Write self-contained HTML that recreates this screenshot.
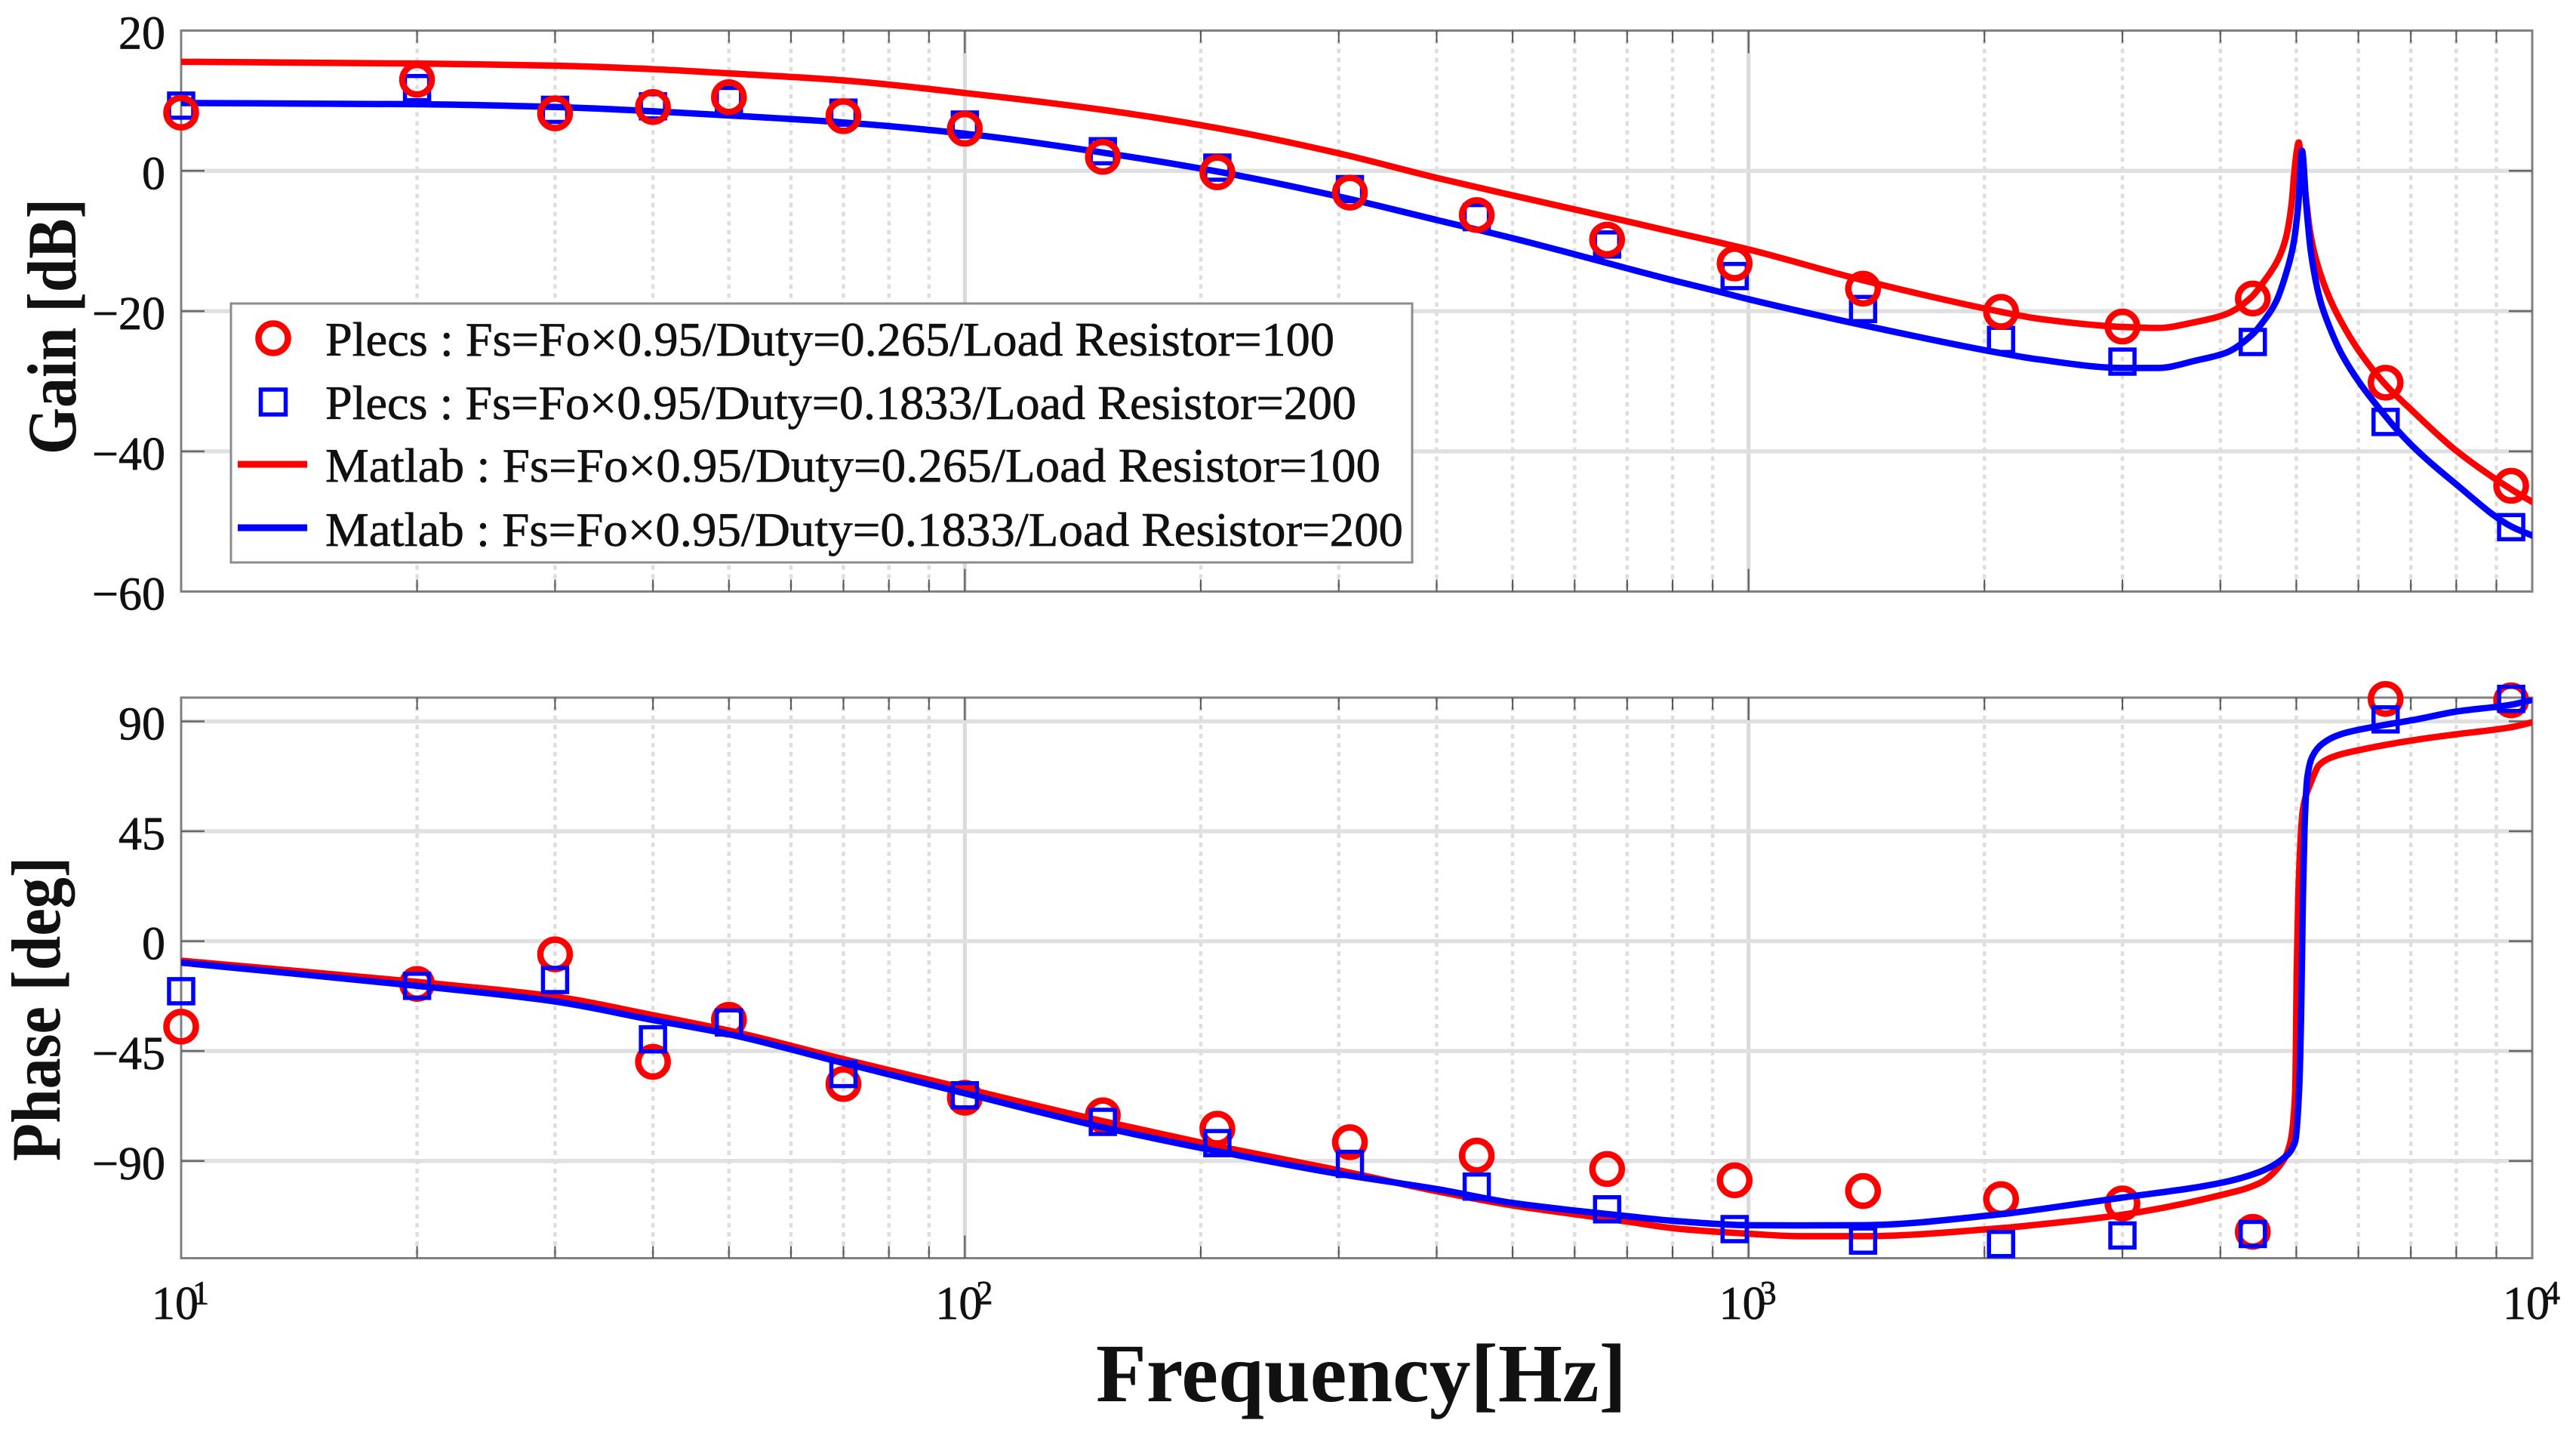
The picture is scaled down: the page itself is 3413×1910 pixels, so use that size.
<!DOCTYPE html>
<html lang="en">
<head>
<meta charset="utf-8">
<title>Bode plot: Plecs vs Matlab</title>
<style>
html,body{margin:0;padding:0;background:#fff;width:3413px;height:1910px;overflow:hidden}
svg{display:block}
text{font-family:"Liberation Serif",serif;fill:#111}
.soft{stroke:#111;stroke-width:0.7px}
</style>
</head>
<body>
<svg id="chart" xmlns="http://www.w3.org/2000/svg" width="3413" height="1910" viewBox="0 0 3413 1910">
  <defs>
    <clipPath id="clip-gain"><rect x="240" y="40" width="3115" height="744"></rect></clipPath>
    <clipPath id="clip-phase"><rect x="240" y="924" width="3115" height="743"></rect></clipPath>
  </defs>
  <g id="gain-axes"></g>
  <g id="phase-axes"></g>

  <g>
    <rect x="306" y="402" width="1565" height="343" fill="#fff" stroke="#8c8c8c" stroke-width="3"></rect>
    <circle cx="362" cy="448" r="19.5" fill="none" stroke="#ff0000" stroke-width="8.5"></circle>
    <rect x="345.5" y="516" width="33" height="33" fill="none" stroke="#0000ff" stroke-width="5.5"></rect>
    <line x1="315" y1="615" x2="407" y2="615" stroke="#ff0000" stroke-width="9"></line>
    <line x1="315" y1="699" x2="407" y2="699" stroke="#0000ff" stroke-width="9"></line>
    <text class="soft" x="431" y="471" font-size="64" textLength="1337" lengthAdjust="spacingAndGlyphs">Plecs : Fs=Fo×0.95/Duty=0.265/Load Resistor=100</text>
    <text class="soft" x="431" y="555" font-size="64" textLength="1366" lengthAdjust="spacingAndGlyphs">Plecs : Fs=Fo×0.95/Duty=0.1833/Load Resistor=200</text>
    <text class="soft" x="431" y="638" font-size="64" textLength="1398" lengthAdjust="spacingAndGlyphs">Matlab : Fs=Fo×0.95/Duty=0.265/Load Resistor=100</text>
    <text class="soft" x="431" y="723" font-size="64" textLength="1428" lengthAdjust="spacingAndGlyphs">Matlab : Fs=Fo×0.95/Duty=0.1833/Load Resistor=200</text>
  </g>

  <text transform="translate(100 602) rotate(-90)" font-size="92" font-weight="bold" textLength="339" lengthAdjust="spacingAndGlyphs">Gain [dB]</text>
  <text transform="translate(79 1538) rotate(-90)" font-size="92" font-weight="bold" textLength="403" lengthAdjust="spacingAndGlyphs">Phase [deg]</text>
  <text x="1452" y="1856" font-size="110" font-weight="bold" textLength="703" lengthAdjust="spacingAndGlyphs">Frequency[Hz]</text>
</svg>

<script>
// ---- data ----
const gainTickValues = [20, 0, -20, -40, -60];
const gainTickLabels = ['20', '0', '−20', '−40', '−60'];
const phaseTickValues = [90, 45, 0, -45, -90];
const phaseTickLabels = ['90', '45', '0', '−45', '−90'];
const decadeExponents = [1, 2, 3, 4];

const plecsFreq = [10, 20, 30, 40, 50, 70, 100, 150, 210, 310, 450, 660, 960, 1400, 2100, 3000, 4400, 6500, 9400];
const plecsGainDuty0265 = [8.3, 13.0, 8.2, 9.1, 10.5, 7.8, 6.0, 2.0, -0.2, -3.1, -6.3, -9.8, -13.2, -16.8, -20.1, -22.2, -18.2, -30.2, -44.9];
const plecsGainDuty01833 = [9.3, 11.8, 8.7, 9.2, 10.1, 8.3, 6.6, 2.8, 0.46, -2.6, -6.6, -10.5, -15.0, -19.7, -24.1, -27.2, -24.4, -35.8, -50.8];
const plecsPhaseDuty0265 = [-35, -17.5, -5.4, -49.4, -32.2, -58.5, -64.1, -71.3, -76.8, -82.3, -87.8, -93.3, -97.9, -102.3, -105.6, -107.4, -119, 99.2, 98.6];
const plecsPhaseDuty01833 = [-20.5, -18.3, -15.9, -40.2, -33.3, -54.4, -63.1, -74, -82.7, -91.2, -100.5, -109.8, -117.9, -122.6, -124, -120.5, -119.9, 90.8, 99.2];

const matlabGainRedFreq = [10, 20, 30, 40, 50, 70, 100, 150, 210, 300, 400, 500, 600, 700, 800, 900, 1000, 1400, 2100, 2350, 3000, 3330, 3738, 4074, 4383, 4551, 4741, 4848, 4931, 4972, 5010, 5036, 5060, 5132, 5200, 5277, 5473, 5685, 6030, 6500, 7000, 7980, 9400, 10000];
const matlabGainRedValues = [15.55, 15.3, 15.0, 14.5, 13.9, 12.9, 11.1, 8.7, 6.1, 2.5, -1.0, -3.5, -5.5, -7.2, -8.7, -10.0, -11.2, -15.6, -20.1, -21.1, -22.25, -22.4, -21.5, -20.4, -18, -15.7, -12.6, -9.6, -4.7, -0.07, 3.0, 4.05, 2.5, -2.9, -8.3, -11.9, -17.3, -21.2, -25.9, -30.5, -34.0, -39.8, -45.4, -47.2];

const matlabGainBlueFreq = [10, 20, 30, 40, 50, 70, 100, 150, 210, 300, 400, 500, 600, 700, 800, 900, 1000, 1400, 2100, 2350, 3000, 3330, 3738, 4074, 4388, 4522, 4709, 4847, 4957, 5030, 5084, 5147, 5218, 5362, 5514, 5724, 6500, 7000, 7980, 9400, 10000];
const matlabGainBlueValues = [9.67, 9.5, 9.1, 8.5, 7.9, 6.9, 5.3, 2.6, -0.1, -3.66, -7.0, -9.6, -11.9, -13.9, -15.6, -17.0, -18.3, -22, -26, -26.9, -28.1, -28.1, -27, -25.9, -23.4, -21.7, -18.7, -14.8, -10.5, -4.7, 2.87, -4.7, -11.5, -18.4, -22.3, -26.3, -35.0, -39.0, -44.6, -50.7, -52];

const matlabPhaseRedFreq = [10, 20, 30, 40, 50, 70, 100, 150, 210, 300, 400, 500, 600, 700, 800, 1000, 1165, 1400, 2100, 2350, 3000, 4002, 4494, 4759, 4898, 4983, 5007, 5040, 5098, 5218, 5350, 5593, 6028, 7092, 8000, 9400, 10000];
const matlabPhaseRedValues = [-8, -16.7, -22.7, -30.3, -36.6, -48.3, -60.3, -73.7, -83.9, -93.8, -102.4, -108.2, -111.8, -114.8, -117.5, -119.8, -120.8, -120.8, -117.5, -116, -112, -104, -99, -92, -84, -62, -12, 27.5, 54, 64.9, 72.2, 75.7, 78.3, 82.4, 84.7, 87.6, 89.6];

const matlabPhaseBlueFreq = [10, 20, 30, 40, 50, 70, 100, 150, 210, 300, 400, 500, 600, 700, 800, 1000, 1165, 1400, 2100, 2350, 3000, 4002, 4494, 4810, 4983, 5040, 5070, 5098, 5122, 5164, 5236, 5397, 5684, 6345, 7092, 8000, 9400, 10000];
const matlabPhaseBlueValues = [-8.8, -18.3, -24.7, -32.3, -38.1, -49.9, -62.3, -76.2, -86, -95.3, -101.5, -107.2, -110.3, -112.6, -114.5, -116.3, -116.4, -116.3, -111.8, -109.8, -105, -99, -94.4, -89, -82, -62, -32, 17.5, 46.3, 67, 75.3, 80.8, 84.6, 88, 90.7, 94, 96.8, 98.8];

// ---- axis functions ----
const PLOT_LEFT = 240, PLOT_RIGHT = 3355, DECADE_W = (PLOT_RIGHT - PLOT_LEFT) / 3;
const GAIN_TOP = 40.5, GAIN_BOTTOM = 783.5, PHASE_TOP = 924, PHASE_BOTTOM = 1666.5;
function xScale(f) { return PLOT_LEFT + (Math.log10(f) - 1) * DECADE_W; }
function gainY(v) { return 226.3 - 9.29 * v; }
function phaseY(v) { return 1246.6 - 3.235 * v; }

const SVG_NS = 'http://www.w3.org/2000/svg';
function mk(parent, tag, attrs, txt) {
  const el = document.createElementNS(SVG_NS, tag);
  for (const k in attrs) el.setAttribute(k, attrs[k]);
  
  if (txt !== undefined) el.textContent = txt;
  parent.appendChild(el);
  return el;
}
// monotone cubic curve through the data points, in screen space
function curveOf(freqs, vals, yFn) {
  const xs = freqs.map(xScale), ys = vals.map(yFn), n = xs.length;
  const d = [], m = new Array(n);
  for (let i = 0; i < n - 1; i++) d.push((ys[i + 1] - ys[i]) / (xs[i + 1] - xs[i]));
  m[0] = d[0];
  m[n - 1] = d[n - 2];
  for (let i = 1; i < n - 1; i++) {
    if (d[i - 1] * d[i] <= 0) { m[i] = 0; continue; }
    const w1 = 2 * (xs[i + 1] - xs[i]) + (xs[i] - xs[i - 1]);
    const w2 = (xs[i + 1] - xs[i]) + 2 * (xs[i] - xs[i - 1]);
    m[i] = (w1 + w2) / (w1 / d[i - 1] + w2 / d[i]);
  }
  let path = 'M' + xs[0].toFixed(2) + ' ' + ys[0].toFixed(2);
  for (let i = 0; i < n - 1; i++) {
    const h = (xs[i + 1] - xs[i]) / 3;
    path += 'C' + (xs[i] + h).toFixed(2) + ' ' + (ys[i] + m[i] * h).toFixed(2) + ' ' +
      (xs[i + 1] - h).toFixed(2) + ' ' + (ys[i + 1] - m[i + 1] * h).toFixed(2) + ' ' +
      xs[i + 1].toFixed(2) + ' ' + ys[i + 1].toFixed(2);
  }
  return path;
}

function drawAxes(g, top, bottom, yFn, tickValues, tickLabels, prefix) {
  // grid
  for (let e = 1; e < 4; e++) {
    for (let m = 2; m <= 9; m++) {
      const f = m * Math.pow(10, e);
      const el = mk(g, 'line', {x1: xScale(f), x2: xScale(f), y1: top, y2: bottom, stroke: '#dedede', 'stroke-width': 4.5, 'stroke-dasharray': '6 6'});
      
    }
  }
  [100, 1000].forEach(f => {
    const el = mk(g, 'line', {x1: xScale(f), x2: xScale(f), y1: top, y2: bottom, stroke: '#dadada', 'stroke-width': 5});
    
  });
  tickValues.forEach(v => {
    if (yFn(v) <= top + 1 || yFn(v) >= bottom - 1) return;
    const el = mk(g, 'line', {x1: PLOT_LEFT, x2: PLOT_RIGHT, y1: yFn(v), y2: yFn(v), stroke: '#e0e0e0', 'stroke-width': 5.5});
    
  });
  // frame
  const frame = mk(g, 'rect', {x: PLOT_LEFT, y: top, width: PLOT_RIGHT - PLOT_LEFT, height: bottom - top, fill: 'none', stroke: '#808080', 'stroke-width': 3});
  
  // x ticks
  for (let e = 1; e < 4; e++) {
    for (let m = 1; m <= 9; m++) {
      if (m === 1 && e === 1) continue;
      const f = m * Math.pow(10, e);
      const len = m === 1 ? 30 : 16;
      const t1 = mk(g, 'line', {x1: xScale(f), x2: xScale(f), y1: top, y2: top + len, stroke: '#555', 'stroke-width': 2});
      
      const t2 = mk(g, 'line', {x1: xScale(f), x2: xScale(f), y1: bottom, y2: bottom - len, stroke: '#555', 'stroke-width': 2});
      
    }
  }
  // y ticks + labels
  tickValues.forEach((v, i) => {
    const y = yFn(v);
    if (y > top + 1 && y < bottom - 1) {
      const t1 = mk(g, 'line', {x1: PLOT_LEFT, x2: PLOT_LEFT + 31, y1: y, y2: y, stroke: '#666', 'stroke-width': 2.5});
      
      const t2 = mk(g, 'line', {x1: PLOT_RIGHT, x2: PLOT_RIGHT - 31, y1: y, y2: y, stroke: '#666', 'stroke-width': 2.5});
      
    }
    const lab = mk(g, 'text', {x: 219, y: y + 24, 'font-size': 62, 'text-anchor': 'end', class: 'soft'}, tickLabels[i]);
    
  });
}

function drawLine(g, freqs, vals, yFn, color, clip, name) {
  const el = mk(g, 'path', {d: curveOf(freqs, vals, yFn), fill: 'none', stroke: color, 'stroke-width': 8.5, 'stroke-linejoin': 'round', 'stroke-linecap': 'round', 'clip-path': 'url(#' + clip + ')'});
  
}
function drawCircles(g, freqs, vals, yFn, name) {
  freqs.forEach((f, i) => {
    const el = mk(g, 'circle', {cx: xScale(f), cy: yFn(vals[i]), r: 19.5, fill: 'none', stroke: '#ff0000', 'stroke-width': 8.5});
    
  });
}
function drawSquares(g, freqs, vals, yFn, name) {
  freqs.forEach((f, i) => {
    const el = mk(g, 'rect', {x: xScale(f) - 16, y: yFn(vals[i]) - 16, width: 32, height: 32, fill: 'none', stroke: '#0000ff', 'stroke-width': 5.5});
    
  });
}

// ---- gain plot ----
const gainG = document.getElementById('gain-axes');
drawAxes(gainG, GAIN_TOP, GAIN_BOTTOM, gainY, gainTickValues, gainTickLabels, 'gain');
drawLine(gainG, matlabGainRedFreq, matlabGainRedValues, gainY, '#ff0000', 'clip-gain', 'gain-line-matlab-duty-0265');
drawLine(gainG, matlabGainBlueFreq, matlabGainBlueValues, gainY, '#0000ff', 'clip-gain', 'gain-line-matlab-duty-01833');
drawSquares(gainG, plecsFreq, plecsGainDuty01833, gainY, 'gain-square-plecs-duty-01833');
drawCircles(gainG, plecsFreq, plecsGainDuty0265, gainY, 'gain-circle-plecs-duty-0265');

// ---- phase plot ----
const phaseG = document.getElementById('phase-axes');
drawAxes(phaseG, PHASE_TOP, PHASE_BOTTOM, phaseY, phaseTickValues, phaseTickLabels, 'phase');
drawCircles(phaseG, plecsFreq, plecsPhaseDuty0265, phaseY, 'phase-circle-plecs-duty-0265');
drawLine(phaseG, matlabPhaseRedFreq, matlabPhaseRedValues, phaseY, '#ff0000', 'clip-phase', 'phase-line-matlab-duty-0265');
drawLine(phaseG, matlabPhaseBlueFreq, matlabPhaseBlueValues, phaseY, '#0000ff', 'clip-phase', 'phase-line-matlab-duty-01833');
drawSquares(phaseG, plecsFreq, plecsPhaseDuty01833, phaseY, 'phase-square-plecs-duty-01833');

// ---- x decade labels ----
decadeExponents.forEach(e => {
  const tx = xScale(Math.pow(10, e));
  const base = mk(phaseG, 'text', {x: tx - 39, y: 1747, 'font-size': 62, class: 'soft'}, '10');
  
  const sup = mk(phaseG, 'text', {x: tx + 15, y: 1727, 'font-size': 44, class: 'soft'}, String(e));
  
});
</script>
</body>
</html>
